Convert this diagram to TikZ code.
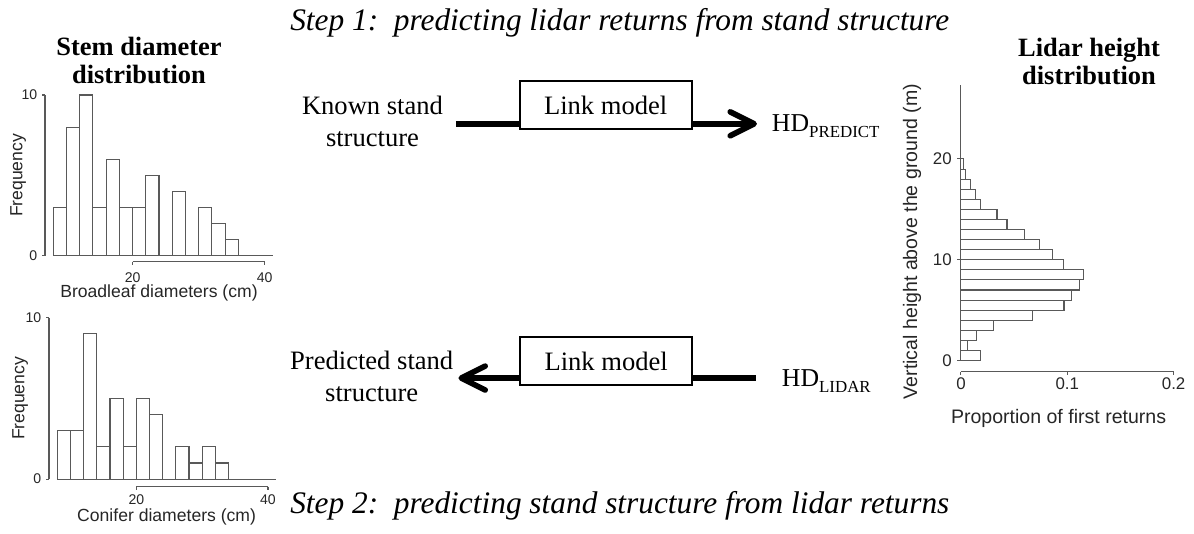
\documentclass[tikz,border=0pt]{standalone}
\usepackage{fontspec}
\setmainfont{Liberation Serif}
\newfontfamily\plotfont{Liberation Sans}
\usetikzlibrary{arrows.meta}

\begin{document}
\begin{tikzpicture}[
    x=0.025cm, y=-0.025cm,
    every node/.style={inner sep=0pt},
    heading/.style={
        font=\bfseries\fontsize{18.8pt}{20.6pt}\selectfont,
        align=center
    },
    steptext/.style={
        font=\itshape\fontsize{22.3pt}{26pt}\selectfont,
        anchor=base west
    },
    standtext/.style={
        font=\fontsize{18.9pt}{22.5pt}\selectfont,
        align=center
    },
    hdtext/.style={
        font=\fontsize{18.3pt}{22pt}\selectfont,
        anchor=base west
    },
    linkbox/.style={
        draw, line width=1.6pt,
        minimum width=4.3cm, minimum height=1.2cm,
        font=\fontsize{18.9pt}{22.5pt}\selectfont
    },
    flow/.style={line width=4pt},
    flowhead/.style={-{Straight Barb[length=17pt,width=17pt,round]}},
    histbar/.style={draw=black!65, line width=0.75pt},
    histaxis/.style={draw=black!65, line width=0.75pt},
    ticksmall/.style={font=\plotfont\fontsize{10pt}{11pt}\selectfont, text=black!85},
    labelsmall/.style={font=\plotfont\fontsize{12.5pt}{14pt}\selectfont, text=black!85},
    ticklarge/.style={font=\plotfont\fontsize{12pt}{13pt}\selectfont, text=black!85},
    labellarge/.style={font=\plotfont\fontsize{13.9pt}{15pt}\selectfont, text=black!85}
]
\useasboundingbox (0,0) rectangle (1194,533);

% titles
\node[steptext] (step1) at (290,30.7) {Step 1:\ \ predicting lidar returns from stand structure};
\node[steptext] (step2) at (290,513) {Step 2:\ \ predicting stand structure from lidar returns};
\node[heading] (stemhead) at (139,60.5) {Stem diameter\\distribution};
\node[heading] (lidarhead) at (1089,61.5) {Lidar height\\distribution};

% step 1
\node[standtext] (known) at (372.5,121.6) {Known stand\\structure};
\node[linkbox] (link1) at (605.7,105) {Link model};
\node[hdtext] (hdpredict) at (771.7,131.7) {HD\raisebox{-4.3pt}{\fontsize{12pt}{12pt}\selectfont PREDICT}};
\coordinate (in1) at ([yshift=4.5pt]link1.south west);
\coordinate (out1) at ([yshift=4.5pt]link1.south east);
\draw[flow, shorten <=9pt] (known.east |- in1) -- (in1);
\draw[flow, flowhead, shorten >=10.5pt] (out1) -- (hdpredict.west |- out1);

% step 2
\node[standtext] (predicted) at (371.7,376.6) {Predicted stand\\structure};
\node[linkbox] (link2) at (606.2,361.2) {Link model};
\node[hdtext] (hdlidar) at (781.7,386.7) {HD\raisebox{-4.3pt}{\fontsize{12pt}{12pt}\selectfont LIDAR}};
\coordinate (in2) at ([yshift=5.9pt]link2.south east);
\coordinate (out2) at ([yshift=5.9pt]link2.south west);
\draw[flow, shorten <=18.3pt] (hdlidar.west |- in2) -- (in2);
\draw[flow, flowhead, shorten >=3.5pt] (out2) -- (predicted.east |- out2);

% broadleaf diameters
\begin{scope}[shift={(0.0115cm,-6.3925cm)}, x=0.1651cm, y=0.4018cm]
  \foreach \h [count=\i from 0] in {3,8,10,3,6,3,3,5,0,4,0,3,2,1}
    \draw[histbar] ({8+2*\i},0) rectangle ++(2,\h);
  \draw[histbar] (8,0) -- (41.2,0);
  \draw[histaxis] (6.74,10) -- (6.74,0);
  \foreach \t in {0,10} {
    \draw[histaxis] (6.74,\t) -- (6.24,\t);
    \node[ticksmall, anchor=east] (bly\t) at (5.6,\t) {\t};
  }
  \draw[histaxis] (20,-0.37) -- (40,-0.37);
  \foreach \t in {20,40} {
    \draw[histaxis] (\t,-0.37) -- (\t,-0.57);
    \node[ticksmall] (blx\t) at (\t,-1.34) {\t};
  }
  \node[labelsmall] (blxlabel) at (24,-2.34) {Broadleaf diameters (cm)};
  \node[labelsmall, rotate=90] (blylabel) at (2.66,5) {Frequency};
\end{scope}

% conifer diameters
\begin{scope}[shift={(0.1175cm,-11.975cm)}, x=0.1645cm, y=0.4033cm]
  \foreach \h [count=\i from 0] in {3,3,9,2,5,2,5,4,0,2,1,2,1}
    \draw[histbar] ({8+2*\i},0) rectangle ++(2,\h);
  \draw[histbar] (8,0) -- (41.2,0);
  \draw[histaxis] (6.73,10) -- (6.73,0);
  \foreach \t in {0,10} {
    \draw[histaxis] (6.73,\t) -- (6.23,\t);
    \node[ticksmall, anchor=east] (cfy\t) at (5.6,\t) {\t};
  }
  \draw[histaxis] (20,-0.47) -- (40,-0.47);
  \foreach \t in {20,40} {
    \draw[histaxis] (\t,-0.47) -- (\t,-0.67);
    \node[ticksmall] (cfx\t) at (\t,-1.30) {\t};
  }
  \node[labelsmall] (cfxlabel) at (24.6,-2.34) {Conifer diameters (cm)};
  \node[labelsmall, rotate=90] (cfylabel) at (2.33,5) {Frequency};
\end{scope}

% lidar heights
\begin{scope}[shift={(24.0175cm,-9.0125cm)}, x=0.26575cm, y=0.252cm]
  \foreach \w [count=\i from 0] in {1.82,0.63,1.44,3.10,6.77,9.69,10.44,11.13,11.48,9.60,
                                    8.62,7.40,5.99,4.33,3.39,1.88,1.41,0.94,0.41,0.25}
    \draw[histbar] (0,\i) rectangle (\w,\i+1);
  \draw[histaxis] (0,0) -- (0,27.3);
  \foreach \t in {0,10,20} {
    \draw[histaxis] (0,\t) -- (-0.38,\t);
    \node[ticklarge, anchor=east] (hty\t) at (-0.85,\t) {\t};
  }
  \draw[histaxis] (0,-1.11) -- (20,-1.11);
  \foreach \t/\s in {0/0,10/0.1,20/0.2} {
    \draw[histaxis] (\t,-1.11) -- (\t,-1.44);
    \node[ticklarge] (htx\t) at (\t,-2.26) {\s};
  }
  \node[labellarge] (htxlabel) at (9.18,-5.73) {Proportion of first returns};
  \node[labellarge, rotate=90] (htylabel) at (-4.61,11.8) {Vertical height above the ground (m)};
\end{scope}

\end{tikzpicture}
\end{document}
